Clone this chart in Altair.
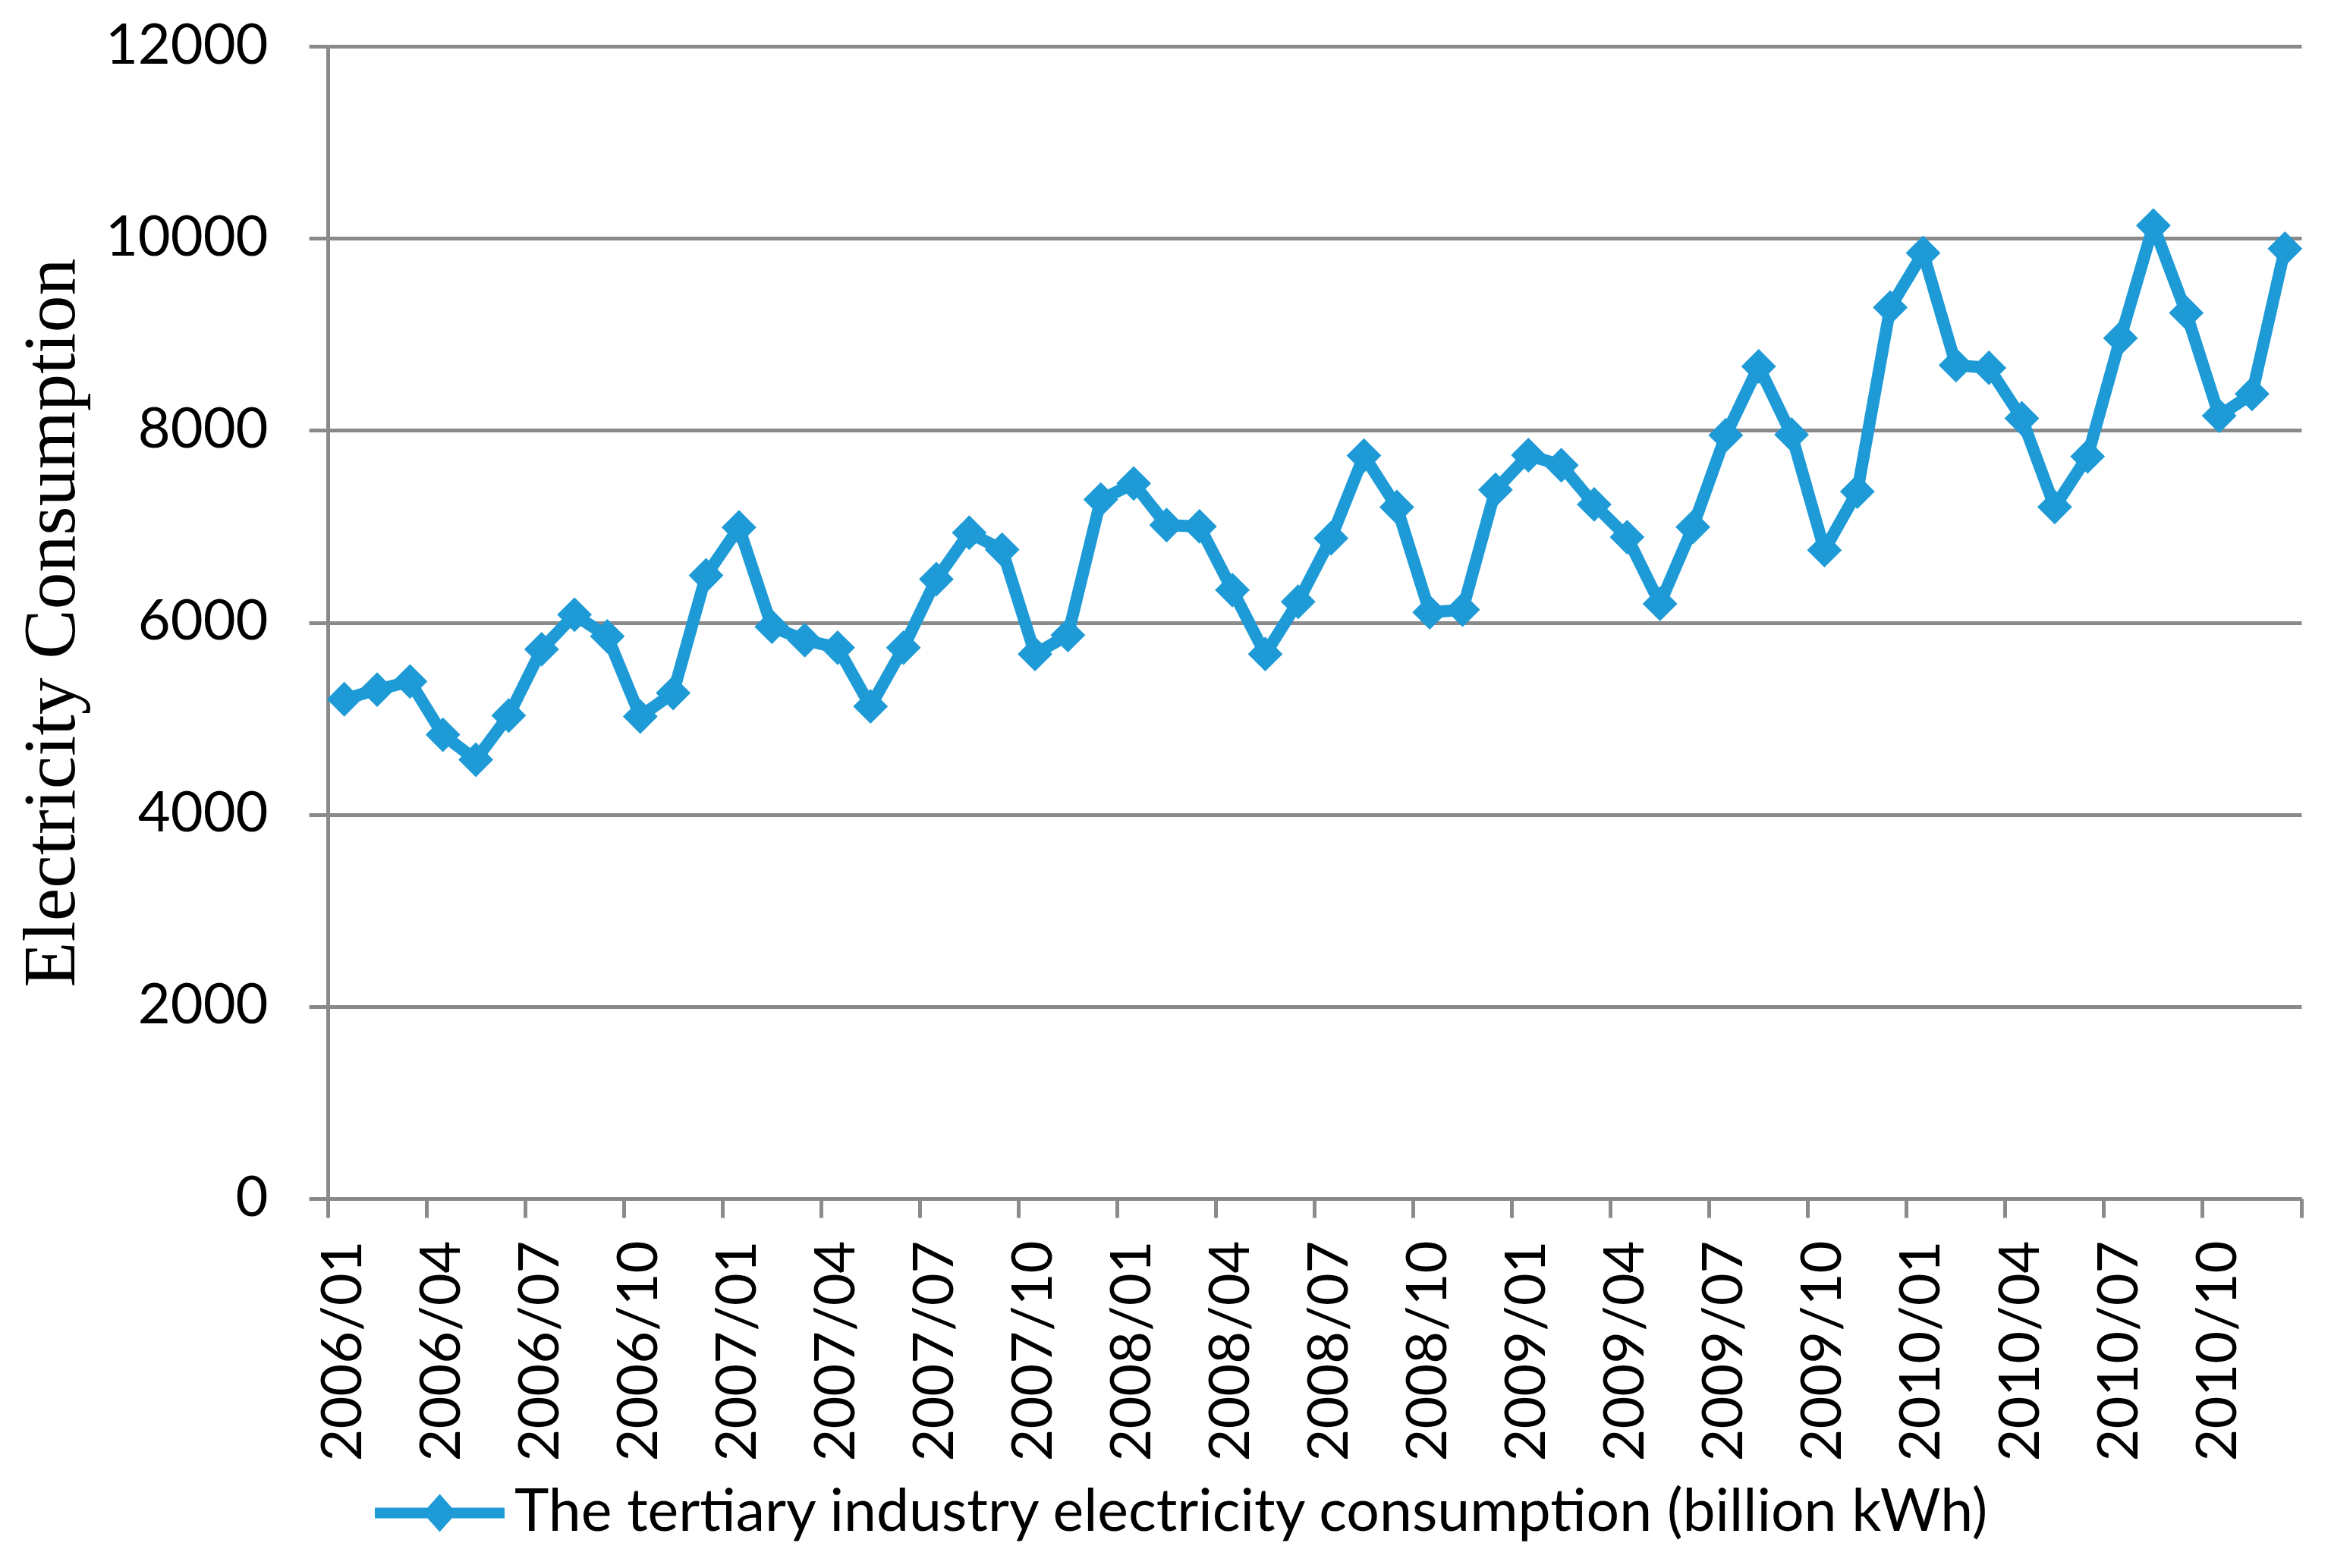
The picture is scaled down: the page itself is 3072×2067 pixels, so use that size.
import altair as alt
import pandas as pd

# ---- data ----
months = [f"{y}/{m:02d}" for y in range(2006, 2011) for m in range(1, 13)]
values = [
    5200, 5300, 5385, 4830, 4570, 5030, 5720, 6080, 5855, 5020, 5265, 6490,   # 2006
    6990, 5955, 5815, 5737, 5126, 5737, 6450, 6934, 6758, 5671, 5868, 7279,   # 2007
    7447, 7013, 7000, 6337, 5671, 6215, 6877, 7737, 7201, 6105, 6133, 7381,   # 2008
    7742, 7637, 7229, 6888, 6194, 6993, 7950, 8666, 7956, 6753, 7363, 9280,   # 2009
    9848, 8679, 8651, 8125, 7202, 7729, 8961, 10133, 9224, 8152, 8380, 9892,  # 2010
]
tick_labels = months[::3]
end_tick = [months[-1]]
y_ticks = [0, 2000, 4000, 6000, 8000, 10000, 12000]
series_name = "The tertiary industry electricity consumption (billion kWh)"

BLUE = "#1E9BD7"
GRID = "#8A8A8A"
W, H = 2601, 1519

df = pd.DataFrame({"month": months, "value": values, "series": series_name})

x_scale = alt.Scale(type="band", paddingInner=0, paddingOuter=0)

x_main = alt.X(
    "month:O",
    sort=months,
    scale=x_scale,
    axis=alt.Axis(
        orient="bottom",
        values=tick_labels,
        labelAngle=270,
        labelAlign="right",
        labelBaseline="middle",
        bandPosition=0,
        tickExtra=False,
        labelPadding=30,
        tickSize=25,
        labelFont="Lato",
        labelFontSize=74,
        labelColor="black",
        labelLimit=1000,
        domainColor=GRID,
        domainWidth=5,
        tickColor=GRID,
        tickWidth=5,
        grid=False,
        labelOverlap=False,
    ),
    title=None,
)

x_end = alt.X(
    "month:O",
    sort=months,
    scale=x_scale,
    axis=alt.Axis(
        orient="bottom",
        values=end_tick,
        labels=False,
        domain=False,
        grid=False,
        bandPosition=1,
        tickExtra=False,
        tickSize=25,
        tickColor=GRID,
        tickWidth=5,
    ),
    title=None,
)

y_enc = alt.Y(
    "value:Q",
    scale=alt.Scale(domain=[0, 12000], nice=False),
    axis=alt.Axis(
        values=y_ticks,
        format="d",
        tickSize=25,
        labelPadding=54,
        labelFont="Lato",
        labelFontSize=74,
        labelColor="black",
        labelLimit=1000,
        domainColor=GRID,
        domainWidth=5,
        tickColor=GRID,
        tickWidth=5,
        grid=True,
        gridColor=GRID,
        gridWidth=5,
        titleFont="Liberation Serif",
        titleFontSize=98,
        titleFontWeight="normal",
        titleColor="black",
        titleAngle=270,
        titleAlign="center",
        titleBaseline="bottom",
        titleX=-314,
        titleY=H / 2,
    ),
    title="Electricity Consumption",
)

line = alt.Chart(df).mark_line(strokeWidth=16, strokeJoin="round").encode(
    x=x_main,
    y=y_enc,
    color=alt.Color(
        "series:N",
        scale=alt.Scale(range=[BLUE]),
        legend=alt.Legend(
            title=None,
            orient="none",
            legendX=55,
            legendY=1841,
            direction="horizontal",
            symbolType="M-1,0L1,0M-0.15,0L0,-0.17L0.15,0L0,0.17Z",
            symbolSize=29241,
            symbolStrokeWidth=14,
            symbolFillColor=BLUE,
            symbolStrokeColor=BLUE,
            symbolOpacity=1,
            labelFont="Lato",
            labelFontSize=77,
            labelColor="black",
            labelOffset=6,
            labelLimit=3000,
            padding=0,
        ),
    ),
)

points = alt.Chart(df).mark_point(
    shape="diamond", filled=True, size=2100, opacity=1, color=BLUE
).encode(x=x_end, y=y_enc)

chart = (
    alt.layer(line, points)
    .resolve_axis(x="independent")
    .properties(
        width=W,
        height=H,
        padding={"left": 424, "top": 53, "right": 31, "bottom": 470},
        autosize=alt.AutoSizeParams(type="none"),
        background="white",
    )
    .configure_view(stroke=None)
)

chart.save("out.html", embed_options={"renderer": "svg", "actions": False})
